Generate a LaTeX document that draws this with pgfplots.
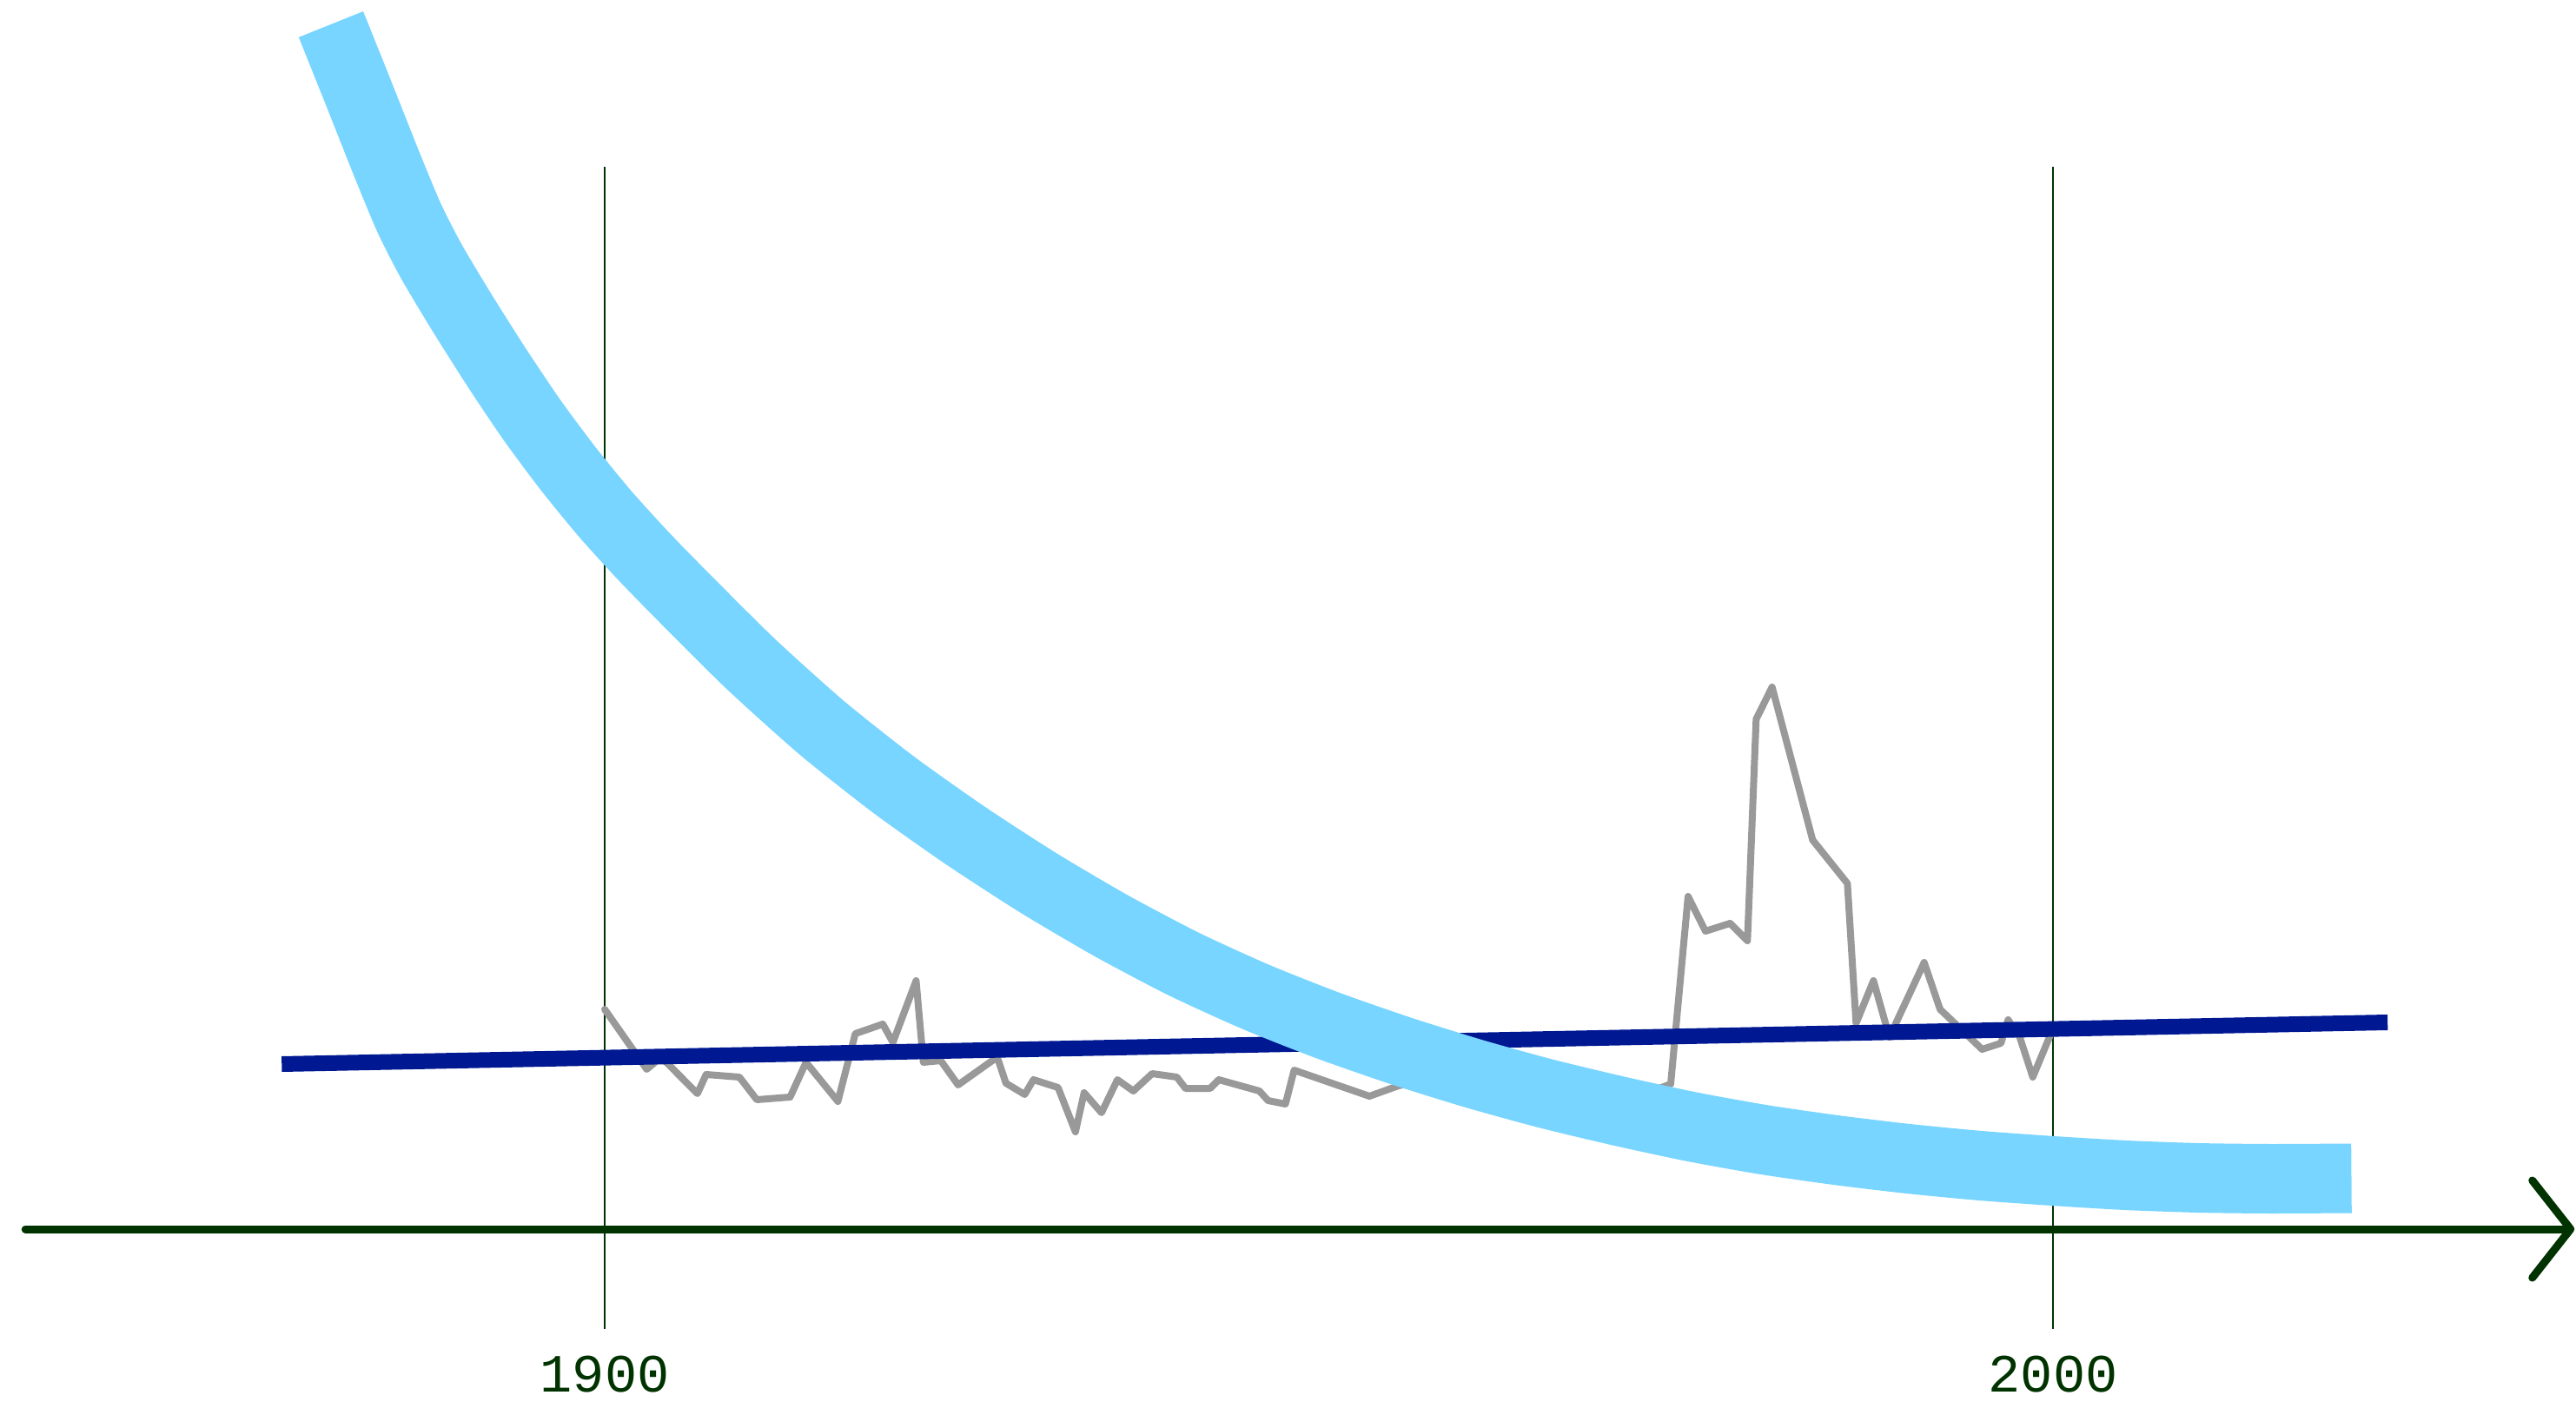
\documentclass[border=0pt]{standalone}
\usepackage{pgfplots}
\pgfplotsset{compat=1.18}
\usepackage{fontspec}
\setmainfont{Liberation Sans}
\newfontfamily\tickfont{Liberation Mono}
\usetikzlibrary{arrows.meta}
\definecolor{axgreen}{RGB}{0,51,0}
\definecolor{lblue}{RGB}{120,213,255}
\definecolor{dblue}{RGB}{0,24,145}
\definecolor{lgray}{RGB}{153,153,153}
\begin{document}
\begin{tikzpicture}
\begin{axis}[
  scale only axis,
  width=733.5pt, height=334.5pt,
  xmin=1860, xmax=2036, ymin=-11.5, ymax=122.3,
  clip=false,
  axis line style={draw=none},
  ytick=\empty,
  xtick={1900,2000},
  xticklabels={1900,2000},
  tick style={draw=none},
  xmajorgrids,
  grid style={axgreen, line width=0.7pt},
  xticklabel style={font=\tickfont\fontsize{15.5}{16}\selectfont, text=axgreen, yshift=-4.3pt},
]
\addplot[lgray, line width=2pt, line join=round, line cap=round] coordinates {
(1900.0,25.3) (1902.9,18.4) (1903.9,19.8) (1906.4,15.6) (1907.0,17.8) (1909.3,17.5)
(1910.5,14.9) (1912.8,15.2) (1913.9,19.2) (1916.1,14.7) (1917.3,22.5) (1919.2,23.6)
(1919.9,21.5) (1921.5,28.6) (1922.0,19.2) (1923.2,19.4) (1924.4,16.6) (1927.1,19.8)
(1927.7,16.8) (1929.0,15.5) (1929.6,17.2) (1931.3,16.3) (1932.5,11.2) (1933.1,15.7)
(1934.3,13.4) (1935.4,17.2) (1936.5,15.9) (1937.8,17.9) (1939.5,17.5) (1940.1,16.2)
(1941.8,16.2) (1942.4,17.2) (1945.2,15.9) (1945.8,14.8) (1947.0,14.4) (1947.6,18.3)
(1952.8,15.3) (1954.8,16.5) (1957.5,17.5) (1960.5,17.0) (1963.5,17.8) (1966.5,17.0)
(1969.5,16.8) (1972.8,16.2) (1973.6,16.7) (1974.8,38.3) (1976.0,34.3) (1977.7,35.2)
(1978.9,33.2) (1979.5,58.7) (1980.6,62.4) (1983.4,44.8) (1985.8,39.8) (1986.4,23.7)
(1987.6,28.6) (1988.7,22.1) (1991.1,30.7) (1992.2,25.3) (1995.1,20.7) (1996.4,21.4)
(1996.9,24.1) (1997.7,22.1) (1998.6,17.5) (1999.8,22.3)
};
\addplot[dblue, line width=4.5pt] coordinates {(1877.7,19.0) (2023.1,23.8)};
\addplot[lblue, line width=20pt, smooth, tension=0.4, line join=round] coordinates {
(1881.1,138.7) (1883.0,130.8) (1885.0,122.4) (1886.5,116.4) (1888.0,111.5) (1890.0,105.9)
(1892.5,99.3) (1895.0,93.1) (1897.5,87.5) (1900.0,82.4) (1902.5,77.8) (1905.0,73.5)
(1910.0,65.2) (1915.0,57.7) (1920.0,51.1) (1925.0,45.2) (1930.0,39.8) (1935.0,34.9)
(1940.0,30.5) (1945.0,26.7) (1950.0,23.4) (1955.0,20.5) (1960.0,17.9) (1965.0,15.6)
(1970.0,13.6) (1975.0,11.8) (1980.0,10.3) (1985.0,9.1) (1990.0,8.1) (1995.0,7.3)
(2000.0,6.7) (2005.0,6.2) (2010.0,5.9) (2015.0,5.8) (2020.6,5.85)
};
\addplot[axgreen, line width=2.25pt, line cap=round,
  -{Straight Barb[length=11pt,width=28pt,line cap=round,line join=round]}]
  coordinates {(1860,0) (2036,0)};
\end{axis}
\pgfresetboundingbox
\path ([xshift=-7.3pt,yshift=-24.5pt]current axis.south west) rectangle ([xshift=0.45pt,yshift=48pt]current axis.north east);
\end{tikzpicture}
\end{document}
